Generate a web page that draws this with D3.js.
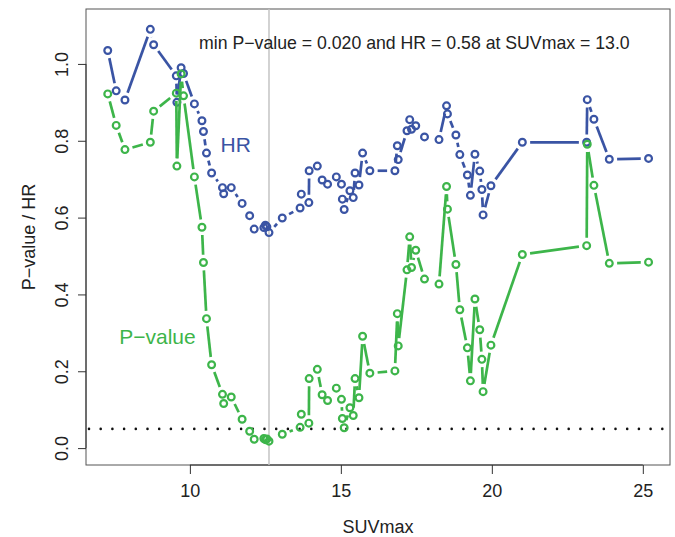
<!DOCTYPE html>
<html>
<head>
<meta charset="utf-8">
<script src="https://cdn.jsdelivr.net/npm/d3@7"></script>
<style>
  body { margin: 0; background: #fff; }
  svg text { font-family: "Liberation Sans", Arial, sans-serif; }
</style>
</head>
<body>
<svg id="grafico" width="675" height="537"></svg>
<script>
// SUVmax cut-offs, HR and P-value at each cut-off
const suv = [
    7.28, 7.56, 7.85, 8.69, 8.80, 9.55, 9.57, 9.71, 9.79,
    10.15, 10.40, 10.45, 10.55, 10.72, 11.08, 11.12, 11.37, 11.73, 11.98,
    12.13, 12.45, 12.50, 12.55, 12.62, 13.06, 13.65, 13.69, 13.94, 13.95,
    14.22, 14.38, 14.56, 14.85, 15.02, 15.05, 15.11, 15.30, 15.41, 15.47,
    15.60, 15.72, 15.96, 16.79, 16.87, 16.90, 17.19, 17.28, 17.34, 17.48,
    17.77, 18.25, 18.50, 18.53, 18.81, 18.94, 19.19, 19.29, 19.44, 19.60,
    19.67, 19.71, 19.97, 21.01, 23.14, 23.16, 23.38, 23.89, 25.19
];
const hr = [
    1.035, 0.930, 0.906, 1.090, 1.050, 0.969, 0.900, 0.990, 0.975,
    0.896, 0.852, 0.824, 0.768, 0.716, 0.678, 0.662, 0.678, 0.637, 0.605,
    0.570, 0.574, 0.580, 0.576, 0.561, 0.599, 0.625, 0.661, 0.639, 0.722,
    0.734, 0.698, 0.687, 0.706, 0.687, 0.648, 0.621, 0.670, 0.652, 0.716,
    0.685, 0.768, 0.722, 0.722, 0.787, 0.751, 0.826, 0.855, 0.830, 0.839,
    0.810, 0.803, 0.891, 0.870, 0.815, 0.764, 0.711, 0.658, 0.765, 0.721,
    0.673, 0.607, 0.683, 0.796, 0.796, 0.907, 0.856, 0.752, 0.754
];
const pval = [
    0.922, 0.840, 0.777, 0.796, 0.877, 0.924, 0.734, 0.974, 0.917,
    0.706, 0.575, 0.483, 0.337, 0.217, 0.140, 0.116, 0.133, 0.075, 0.044,
    0.023, 0.025, 0.022, 0.024, 0.018, 0.036, 0.054, 0.088, 0.065, 0.181,
    0.205, 0.139, 0.124, 0.156, 0.127, 0.077, 0.053, 0.105, 0.085, 0.181,
    0.131, 0.291, 0.195, 0.201, 0.350, 0.266, 0.464, 0.550, 0.470, 0.515,
    0.440, 0.427, 0.681, 0.622, 0.478, 0.360, 0.261, 0.175, 0.388, 0.308,
    0.231, 0.147, 0.268, 0.504, 0.527, 0.791, 0.684, 0.481, 0.484
];

const xTicks = [10, 15, 20, 25];
const yTicks = [0, 0.2, 0.4, 0.6, 0.8, 1.0];
const corteSuv = 12.62;      // vertical reference line
const limiarP = 0.05;        // dotted significance line
const anotacao = "min P\u2212value = 0.020 and HR = 0.58 at SUVmax = 13.0";

const azul = "#3a54a4", verde = "#3db54a";

const svg = d3.select("#grafico");
const esq = 86, dir = 670, topo = 9, base = 465;

const x = d3.scaleLinear().domain([6.56, 25.9]).range([esq, dir]);
const y = d3.scaleLinear().domain([-0.044, 1.143]).range([base, topo]);

// caixa
svg.append("rect")
    .attr("x", esq).attr("y", topo)
    .attr("width", dir - esq).attr("height", base - topo)
    .attr("fill", "none").attr("stroke", "#555").attr("stroke-width", 1);

// eixos
const eixoX = svg.append("g")
    .attr("transform", `translate(0,${base})`)
    .call(d3.axisBottom(x).tickValues(xTicks).tickSize(9).tickPadding(5).tickFormat(d3.format("d")));
eixoX.select(".domain").attr("d", `M${x(xTicks[0])},0H${x(xTicks[xTicks.length - 1])}`)
    .attr("stroke", "#333");
eixoX.selectAll(".tick line").attr("stroke", "#333");
eixoX.selectAll(".tick text")
    .attr("font-size", 18).attr("fill", "#222")
    .attr("y", 0).attr("dy", 0).attr("transform", "translate(0,31.5)");

const eixoY = svg.append("g")
    .attr("transform", `translate(${esq},0)`)
    .call(d3.axisLeft(y).tickValues(yTicks).tickSize(8).tickFormat(d3.format(".1f")));
eixoY.select(".domain").attr("d", `M0,${y(yTicks[0])}V${y(yTicks[yTicks.length - 1])}`)
    .attr("stroke", "#333");
eixoY.selectAll(".tick line").attr("stroke", "#333");
eixoY.selectAll(".tick text")
    .attr("font-size", 18).attr("fill", "#222")
    .attr("x", 0).attr("dy", 0).attr("text-anchor", "middle")
    .attr("transform", "translate(-18,0) rotate(-90)");

// títulos dos eixos
svg.append("text")
    .attr("x", (esq + dir) / 2).attr("y", 533)
    .attr("text-anchor", "middle").attr("font-size", 18).attr("fill", "#222")
    .text("SUVmax");
svg.append("text")
    .attr("transform", `translate(35,${(topo + base) / 2}) rotate(-90)`)
    .attr("text-anchor", "middle").attr("font-size", 18).attr("fill", "#222")
    .text("P\u2212value / HR");

// linha vertical e linha pontilhada de 0.05
svg.append("line")
    .attr("x1", x(corteSuv)).attr("x2", x(corteSuv))
    .attr("y1", topo).attr("y2", base)
    .attr("stroke", "#c4c4c4").attr("stroke-width", 1.5);
svg.append("line")
    .attr("x1", esq + 3).attr("x2", dir)
    .attr("y1", y(limiarP)).attr("y2", y(limiarP))
    .attr("stroke", "#111").attr("stroke-width", 2.6)
    .attr("stroke-linecap", "round").attr("stroke-dasharray", "0,11.7");

// type = "b": segmentos com folga em volta de cada ponto
const folga = 7.8;
function segmentos(vals) {
    const pts = suv.map((s, i) => [x(s), y(vals[i])]);
    const segs = [];
    for (let i = 1; i < pts.length; i++) {
        const [x0, y0] = pts[i - 1], [x1, y1] = pts[i];
        const dx = x1 - x0, dy = y1 - y0, len = Math.hypot(dx, dy);
        if (len <= 2 * folga) continue;
        const ux = dx / len, uy = dy / len;
        segs.push([x0 + ux * folga, y0 + uy * folga, x1 - ux * folga, y1 - uy * folga]);
    }
    return segs;
}

function serie(vals, cor) {
    const g = svg.append("g");
    g.selectAll("line")
        .data(segmentos(vals))
        .join("line")
        .attr("x1", d => d[0]).attr("y1", d => d[1])
        .attr("x2", d => d[2]).attr("y2", d => d[3])
        .attr("stroke", cor).attr("stroke-width", 2.7);
    g.selectAll("circle")
        .data(suv)
        .join("circle")
        .attr("cx", d => x(d))
        .attr("cy", (d, i) => y(vals[i]))
        .attr("r", 3.4)
        .attr("fill", "none").attr("stroke", cor).attr("stroke-width", 2.2);
}

serie(hr, azul);
serie(pval, verde);

// rótulos
svg.append("text")
    .attr("x", 235.7).attr("y", 151.7)
    .attr("text-anchor", "middle").attr("font-size", 21).attr("fill", azul)
    .text("HR");
svg.append("text")
    .attr("x", 157.5).attr("y", 344)
    .attr("text-anchor", "middle").attr("font-size", 21).attr("fill", verde)
    .text("P\u2212value");
svg.append("text")
    .attr("x", 199).attr("y", 49)
    .attr("font-size", 17.7).attr("fill", "#222")
    .text(anotacao);
</script>
</body>
</html>
